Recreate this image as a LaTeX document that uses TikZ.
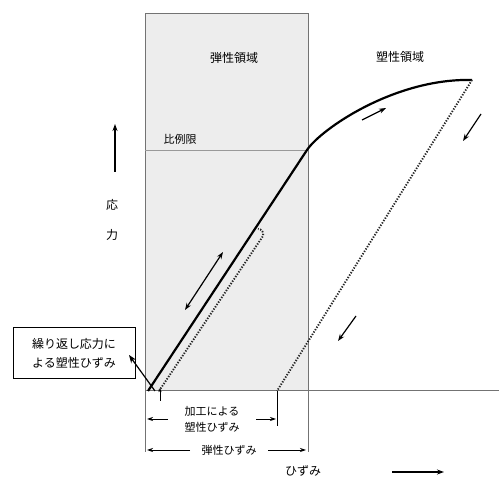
\documentclass[tikz,border=0pt]{standalone}
\usepackage{fontspec}
\setmainfont{Noto Sans CJK JP}
\usetikzlibrary{arrows.meta}
\tikzset{
  lbl/.style={inner sep=0pt, font=\fontsize{11}{15}\selectfont},
  biglbl/.style={inner sep=0pt, font=\fontsize{12}{16}\selectfont},
  curve/.style={line width=2.2pt, black},
  dotline/.style={line width=1.9pt, black!85, dash pattern=on 1.3pt off 1.5pt},
  guide/.style={line width=1pt, black!55},
  dimarrow/.style={line width=0.8pt, -{Stealth[length=6pt,width=4pt]}},
  motion/.style={line width=1.2pt, -{Stealth[length=7pt,width=5pt]}},
}
\begin{document}
\begin{tikzpicture}[x=1pt,y=-1pt]
\useasboundingbox (0,0) rectangle (499,481);
% elastic region
\fill[black!7] (145,14) rectangle (308,391);
\draw[guide] (145,452) -- (145,14) -- (308,14) -- (308,452);
\draw[line width=0.6pt, black!40] (145,150) -- (307,150);
\draw[guide] (145,391) -- (499,391);
% labels
\node[biglbl] (el) at (234,58) {弾性領域};
\node[biglbl] (pl) at (400,57) {塑性領域};
\node[lbl] (hr) at (180,139) {比例限};
\node[biglbl] (s1) at (112,205) {応};
\node[biglbl] (s2) at (112,235) {力};
\coordinate (sa1) at (115,172);
\coordinate (sa2) at (115,124);
\draw[motion, line width=1.4pt] (sa1) -- (sa2);
% curves
\coordinate (o) at (148,391);
\coordinate (y) at (307,150);
\coordinate (pk) at (472,80);
\coordinate (r) at (277,391);
\draw[curve, line join=round] (o) -- (y) .. controls (321,129) and (395,78) .. (pk);
\draw[dotline] (pk) -- (r);
\coordinate (d0) at (159,391);
\coordinate (d1) at (263,236);
\coordinate (d2) at (258,229);
\draw[dotline] (d0) -- (d1) to[bend right=60] (d2);
% motion arrows
\coordinate (m1a) at (185,310); \coordinate (m1b) at (223,252);
\draw[line width=1.2pt, {Stealth[length=7pt,width=5pt]}-{Stealth[length=7pt,width=5pt]}] (m1a) -- (m1b);
\coordinate (m2a) at (362,120); \coordinate (m2b) at (386,108);
\draw[motion] (m2a) -- (m2b);
\coordinate (m3a) at (481,114); \coordinate (m3b) at (463,141);
\draw[motion] (m3a) -- (m3b);
\coordinate (m4a) at (356,316); \coordinate (m4b) at (338,341);
\draw[motion] (m4a) -- (m4b);
% callout
\node[biglbl, draw, line width=0.9pt, minimum width=122pt, minimum height=51pt, align=center, font=\fontsize{12}{19}\selectfont] (cb) at (74,353) {繰り返し応力に\\よる塑性ひずみ};
\coordinate (cx) at (155,391);
\coordinate (ct) at (129,355);
\draw[line width=1.2pt, -{Stealth[length=8pt,width=6pt]}] (cx) -- (ct);
\coordinate (ua) at (160,401); \coordinate (ub) at (160,388);
\draw[line width=0.8pt, -{Stealth[length=4pt,width=3pt]}] (ua) -- (ub);
% dimensions
\draw[line width=0.9pt] (277,391) -- (277,426);
\node[lbl, align=center, font=\fontsize{11}{16}\selectfont] (pw) at (212,419) {加工による\\塑性ひずみ};
\coordinate (pl1) at (168,419); \coordinate (pl2) at (147,419);
\coordinate (pr1) at (256,419); \coordinate (pr2) at (276,419);
\draw[dimarrow] (pl1) -- (pl2);
\draw[dimarrow] (pr1) -- (pr2);
\node[lbl] (ew) at (229,450) {弾性ひずみ};
\coordinate (el1) at (190,450); \coordinate (el2) at (147,450);
\coordinate (er1) at (268,450); \coordinate (er2) at (306,450);
\draw[dimarrow] (el1) -- (el2);
\draw[dimarrow] (er1) -- (er2);
% strain axis label
\node[biglbl, anchor=west] (hz) at (285,471) {ひずみ};
\coordinate (ha1) at (392,472); \coordinate (ha2) at (444,472);
\draw[motion, line width=1.4pt] (ha1) -- (ha2);
\end{tikzpicture}
\end{document}
